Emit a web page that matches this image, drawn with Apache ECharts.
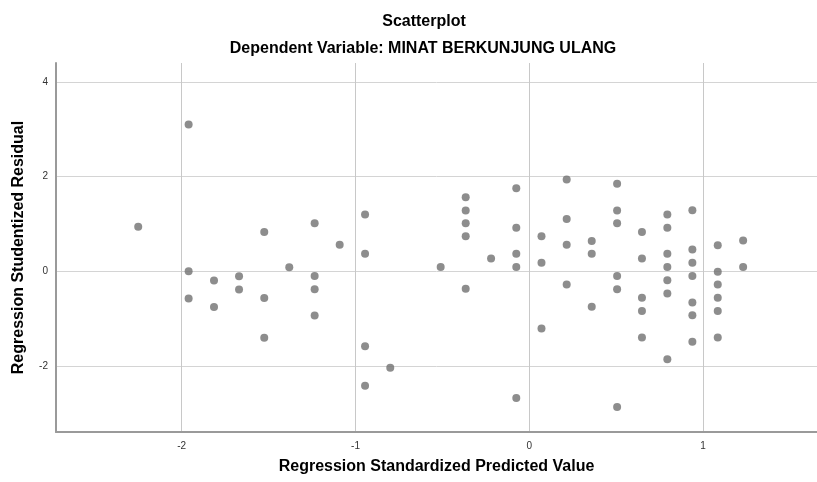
<!DOCTYPE html>
<html><head><meta charset="utf-8">
<script src="https://cdn.jsdelivr.net/npm/echarts@6/dist/echarts.min.js"></script>
<style>html,body{margin:0;padding:0;background:#fff}#c{width:817px;height:482px}</style>
</head><body><div id="c"></div>
<script>
// predicted value (x) and studentized residual (y)
const predicted = [
 -2.250,
 -1.960,-1.960,-1.960,
 -1.814,-1.814,
 -1.670,-1.670,
 -1.525,-1.525,-1.525,
 -1.381,
 -1.235,-1.235,-1.235,-1.235,
 -1.091,
 -0.945,-0.945,-0.945,-0.945,
 -0.800,
 -0.510,
 -0.366,-0.366,-0.366,-0.366,-0.366,
 -0.220,
 -0.075,-0.075,-0.075,-0.075,-0.075,
 0.070,0.070,0.070,
 0.215,0.215,0.215,0.215,
 0.359,0.359,0.359,
 0.505,0.505,0.505,0.505,0.505,0.505,
 0.648,0.648,0.648,0.648,0.648,
 0.794,0.794,0.794,0.794,0.794,0.794,0.794,
 0.938,0.938,0.938,0.938,0.938,0.938,0.938,
 1.084,1.084,1.084,1.084,1.084,1.084,
 1.230,1.230
];
const residual = [
 0.94,
 3.10,0.00,-0.58,
 -0.20,-0.76,
 -0.11,-0.39,
 0.83,-0.57,-1.41,
 0.08,
 1.01,-0.10,-0.38,-0.94,
 0.56,
 1.20,0.37,-1.59,-2.42,
 -2.04,
 0.09,
 1.56,1.28,1.01,0.74,-0.37,
 0.27,
 1.75,0.92,0.37,0.09,-2.68,
 0.74,0.18,-1.21,
 1.94,1.10,0.56,-0.28,
 0.64,0.37,-0.75,
 1.85,1.28,1.01,-0.10,-0.38,-2.87,
 0.83,0.27,-0.56,-0.84,-1.40,
 1.20,0.92,0.37,0.09,-0.19,-0.47,-1.86,
 1.29,0.46,0.18,-0.10,-0.66,-0.93,-1.49,
 0.55,-0.01,-0.28,-0.56,-0.84,-1.40,
 0.65,0.09
];
const xTicks = [-2,-1,0,1];
const yTicks = [-2,0,2,4];
const titleText = 'Scatterplot';
const subtitleText = 'Dependent Variable: MINAT BERKUNJUNG ULANG';
const xName = 'Regression Standardized Predicted Value';
const yName = 'Regression Studentized Residual';

const points = predicted.map((v,i)=>[v,residual[i]]);
const chart = echarts.init(document.getElementById('c'), null, {renderer:'canvas'});
const font = 'Liberation Sans, Arial, sans-serif';
chart.setOption({
  animation:false,
  backgroundColor:'#fff',
  title:[
    {text:titleText,left:419,top:9,textAlign:'center',textStyle:{fontFamily:font,fontSize:16,fontWeight:'bold',color:'#000'}},
    {text:subtitleText,left:418,top:36,textAlign:'center',textStyle:{fontFamily:font,fontSize:16,fontWeight:'bold',color:'#000'}}
  ],
  grid:{left:56,right:0,top:63,bottom:50,containLabel:false},
  xAxis:{
    type:'value',min:-2.723,max:1.655,
    name:xName,nameLocation:'middle',nameGap:27,
    nameTextStyle:{fontFamily:font,fontSize:16,fontWeight:'bold',color:'#000'},
    axisLine:{show:true,onZero:false,lineStyle:{color:'#9a9a9a',width:2}},
    axisTick:{show:false,customValues:xTicks},
    axisLabel:{customValues:xTicks,fontFamily:font,fontSize:10,color:'#333',margin:9},
    splitLine:{show:true,lineStyle:{color:'#c8c8c8',width:1}}
  },
  yAxis:{
    type:'value',min:-3.40,max:4.40,
    name:yName,nameLocation:'middle',nameGap:29,nameRotate:90,
    nameTextStyle:{fontFamily:font,fontSize:16,fontWeight:'bold',color:'#000'},
    axisLine:{show:true,onZero:false,lineStyle:{color:'#9a9a9a',width:2}},
    axisTick:{show:false,customValues:yTicks},
    axisLabel:{customValues:yTicks,fontFamily:font,fontSize:10,color:'#333',margin:8},
    splitLine:{show:true,lineStyle:{color:'#d4d4d4',width:1}}
  },
  series:[{
    type:'scatter',data:points,symbol:'circle',symbolSize:8,
    itemStyle:{color:'#707070'},silent:true
  }]
});
</script></body></html>
